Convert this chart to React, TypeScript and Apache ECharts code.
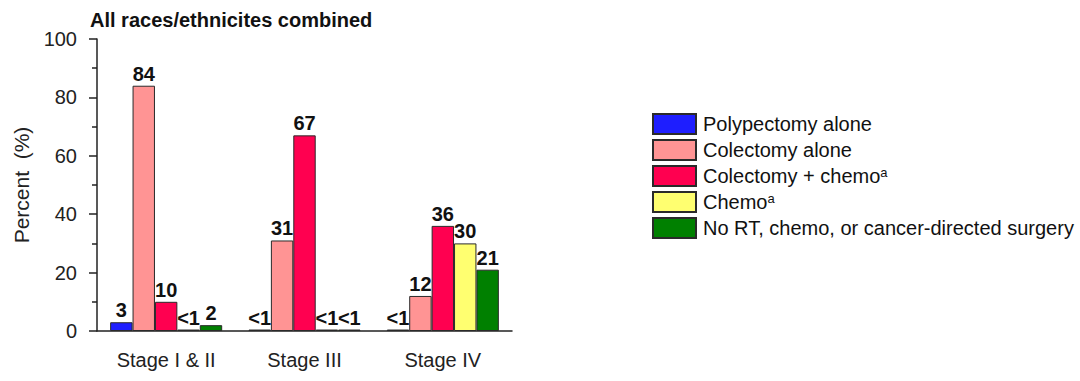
import React, { useEffect, useRef } from "react";
import * as echarts from "echarts";

const categories = ["Stage I & II", "Stage III", "Stage IV"];
const seriesNames = [
  "Polypectomy alone",
  "Colectomy alone",
  "Colectomy + chemo",
  "Chemo",
  "No RT, chemo, or cancer-directed surgery",
];
const superscripted = [false, false, true, true, false];
const colors = ["#1e1eff", "#ff9494", "#ff0050", "#ffff70", "#008000"];
const polypectomy = [3, 0.5, 0.5];
const colectomy = [84, 31, 12];
const colectomyChemo = [10, 67, 36];
const chemo = [0.5, 0.5, 30];
const noTreatment = [2, 0.5, 21];
const polypectomyLabels = ["3", "<1", "<1"];
const colectomyLabels = ["84", "31", "12"];
const colectomyChemoLabels = ["10", "67", "36"];
const chemoLabels = ["<1", "<1", "30"];
const noTreatmentLabels = ["2", "<1", "21"];
const yTicks = [0, 20, 40, 60, 80, 100];

const FONT = "'Liberation Sans', Arial, sans-serif";

export default function App() {
  const ref = useRef<HTMLDivElement>(null);
  useEffect(() => {
    if (!ref.current) return;
    const chart = echarts.init(ref.current, undefined, { renderer: "svg" });
    const values = [polypectomy, colectomy, colectomyChemo, chemo, noTreatment];
    const labels = [polypectomyLabels, colectomyLabels, colectomyChemoLabels, chemoLabels, noTreatmentLabels];
    const series = seriesNames.map((name, i) => ({
      type: "bar",
      name,
      data: values[i],
      barGap: "0%",
      barCategoryGap: "19%",
      itemStyle: { color: colors[i], borderColor: "#2a2a2a", borderWidth: 1 },
      label: {
        show: true,
        position: "top",
        distance: 2,
        fontFamily: FONT,
        fontSize: 20,
        fontWeight: "bold",
        color: "#111",
        formatter: (p: any) => labels[i][p.dataIndex],
      },
    }));
    chart.setOption({
      animation: false,
      textStyle: { fontFamily: FONT },
      title: {
        text: "All races/ethnicites combined",
        left: 85,
        top: 5,
        textStyle: { fontFamily: FONT, fontSize: 20, fontWeight: "bold", color: "#111" },
      },
      legend: {
        orient: "vertical",
        left: 652,
        top: 113,
        padding: 0,
        itemWidth: 43,
        itemHeight: 20,
        itemGap: 4,
        icon: "rect",
        formatter: (name: string) => {
          const i = seriesNames.indexOf(name);
          return superscripted[i] ? name + "{sup|a}" : name;
        },
        textStyle: {
          fontFamily: FONT,
          fontSize: 20,
          lineHeight: 20,
          color: "#111",
          padding: [0, 0, 0, 2],
          rich: {
            sup: { fontFamily: FONT, fontSize: 13, lineHeight: 12, color: "#111", verticalAlign: "top" },
          },
        },
        data: seriesNames,
      },
      grid: { left: 97, right: 568, top: 39, bottom: 50 },
      xAxis: {
        type: "category",
        data: categories,
        axisLine: { lineStyle: { color: "#222", width: 1.5 } },
        axisTick: { alignWithLabel: true, length: 8, lineStyle: { color: "#222", width: 1.5 } },
        axisLabel: { fontFamily: FONT, fontSize: 20, color: "#222", margin: 19 },
      },
      yAxis: {
        type: "value",
        min: 0,
        max: yTicks[yTicks.length - 1],
        interval: 20,
        name: "Percent  (%)",
        nameLocation: "middle",
        nameGap: 65,
        nameTextStyle: { fontFamily: FONT, fontSize: 21, color: "#222" },
        axisLine: { show: true, lineStyle: { color: "#222", width: 1.5 } },
        axisTick: { show: true, length: 8, lineStyle: { color: "#222", width: 1.5 } },
        minorTick: { show: true, splitNumber: 2, length: 5, lineStyle: { color: "#222", width: 1.5 } },
        splitLine: { show: false },
        axisLabel: { fontFamily: FONT, fontSize: 20, color: "#222", margin: 20 },
      },
      series,
    });
    return () => chart.dispose();
  }, []);
  return (
    <div
      ref={ref}
      style={{ position: "fixed", left: 0, top: 0, width: 1080, height: 381, background: "#fff" }}
    />
  );
}
